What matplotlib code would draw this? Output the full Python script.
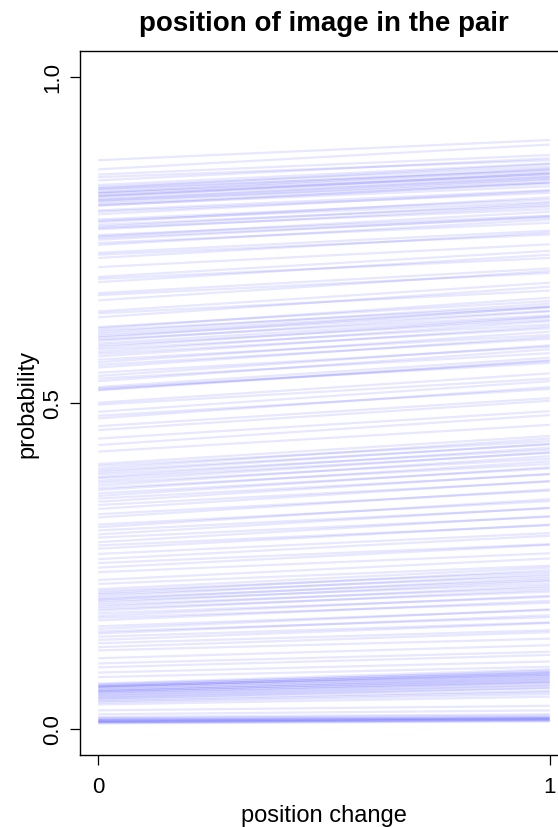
import matplotlib
matplotlib.use("Agg")
import matplotlib.pyplot as plt
from matplotlib.collections import LineCollection

plt.rcParams['font.family'] = ['Liberation Sans', 'DejaVu Sans']

# predicted probability for each posterior draw: first position (0) and after a position change (1)
x_levels = [0, 1]
x_tick_labels = ["0", "1"]
y_ticks = [0.0, 0.5, 1.0]
y_tick_labels = ["0.0", "0.5", "1.0"]

p_pos0 = [
    0.872, 0.858, 0.850, 0.846, 0.841, 0.834, 0.831, 0.829, 0.828, 0.826,
    0.823, 0.822, 0.821, 0.818, 0.817, 0.816, 0.813, 0.811, 0.810, 0.808,
    0.805, 0.803, 0.802, 0.795, 0.793, 0.789, 0.781, 0.779, 0.777, 0.773,
    0.770, 0.768, 0.766, 0.757, 0.755, 0.753, 0.750, 0.745, 0.742, 0.730,
    0.727, 0.722, 0.708, 0.693, 0.690, 0.685, 0.668, 0.665, 0.657, 0.640,
    0.637, 0.631, 0.616, 0.614, 0.611, 0.608, 0.605, 0.602, 0.600, 0.597,
    0.595, 0.591, 0.588, 0.585, 0.582, 0.578, 0.575, 0.571, 0.566, 0.562,
    0.558, 0.554, 0.546, 0.541, 0.537, 0.533, 0.524, 0.522, 0.520, 0.519,
    0.500, 0.497, 0.486, 0.480, 0.476, 0.464, 0.458, 0.445, 0.435, 0.425,
    0.406, 0.403, 0.399, 0.396, 0.393, 0.390, 0.386, 0.384, 0.380, 0.377,
    0.373, 0.369, 0.366, 0.361, 0.357, 0.353, 0.348, 0.343, 0.337, 0.329,
    0.324, 0.313, 0.309, 0.304, 0.298, 0.293, 0.286, 0.281, 0.276, 0.268,
    0.260, 0.254, 0.247, 0.240, 0.228, 0.222, 0.214, 0.211, 0.208, 0.206,
    0.203, 0.200, 0.198, 0.196, 0.193, 0.190, 0.187, 0.184, 0.181, 0.177,
    0.173, 0.170, 0.166, 0.157, 0.153, 0.149, 0.146, 0.141, 0.136, 0.131,
    0.125, 0.120, 0.108, 0.100, 0.094, 0.086, 0.079, 0.069, 0.068, 0.066,
    0.065, 0.065, 0.064, 0.063, 0.062, 0.060, 0.059, 0.058, 0.057, 0.056,
    0.055, 0.053, 0.052, 0.050, 0.049, 0.047, 0.046, 0.044, 0.042, 0.040,
    0.037, 0.028, 0.022, 0.018, 0.016, 0.015, 0.014, 0.013, 0.012, 0.012,
    0.011, 0.010, 0.010, 0.009, 0.008,
]

p_pos1 = [
    0.903, 0.896, 0.880, 0.872, 0.875, 0.867, 0.862, 0.866, 0.856, 0.859,
    0.853, 0.858, 0.849, 0.851, 0.846, 0.852, 0.843, 0.846, 0.838, 0.842,
    0.836, 0.832, 0.838, 0.826, 0.822, 0.825, 0.812, 0.808, 0.815, 0.803,
    0.806, 0.797, 0.801, 0.787, 0.793, 0.784, 0.786, 0.776, 0.781, 0.764,
    0.758, 0.761, 0.743, 0.733, 0.722, 0.727, 0.706, 0.699, 0.702, 0.684,
    0.672, 0.678, 0.656, 0.661, 0.648, 0.652, 0.646, 0.641, 0.647, 0.634,
    0.640, 0.632, 0.627, 0.631, 0.620, 0.625, 0.614, 0.617, 0.604, 0.609,
    0.598, 0.601, 0.586, 0.588, 0.576, 0.582, 0.569, 0.561, 0.565, 0.564,
    0.545, 0.537, 0.533, 0.521, 0.524, 0.507, 0.503, 0.487, 0.481, 0.466,
    0.449, 0.441, 0.445, 0.436, 0.437, 0.428, 0.431, 0.423, 0.424, 0.414,
    0.418, 0.406, 0.410, 0.399, 0.401, 0.390, 0.391, 0.379, 0.380, 0.365,
    0.367, 0.349, 0.352, 0.338, 0.339, 0.325, 0.326, 0.312, 0.313, 0.300,
    0.296, 0.283, 0.282, 0.269, 0.261, 0.250, 0.247, 0.240, 0.243, 0.234,
    0.237, 0.228, 0.231, 0.222, 0.226, 0.216, 0.219, 0.210, 0.213, 0.202,
    0.204, 0.193, 0.196, 0.182, 0.183, 0.171, 0.174, 0.163, 0.162, 0.151,
    0.148, 0.138, 0.128, 0.118, 0.113, 0.103, 0.095, 0.091, 0.087, 0.089,
    0.085, 0.083, 0.086, 0.081, 0.083, 0.078, 0.080, 0.075, 0.077, 0.072,
    0.074, 0.070, 0.071, 0.066, 0.067, 0.062, 0.063, 0.058, 0.056, 0.053,
    0.049, 0.035, 0.028, 0.022, 0.020, 0.018, 0.017, 0.016, 0.015, 0.016,
    0.014, 0.013, 0.014, 0.012, 0.011,
]

W, H = 558, 828
fig = plt.figure(figsize=(W / 100, H / 100), dpi=100)
# plot region runs past the right edge of the figure
ax = fig.add_axes([80.2 / W, 1 - 755.7 / H, 487.6 / W, 704.0 / H])

segments = [[(x_levels[0], a), (x_levels[1], b)] for a, b in zip(p_pos0, p_pos1)]
ax.add_collection(LineCollection(segments, colors=[(0, 0, 1, 0.095)], linewidths=1.6))

ax.set_xlim(-0.04, 1.04)
ax.set_ylim(-0.04, 1.04)

ax.set_xticks(x_levels)
ax.set_xticklabels(x_tick_labels)
ax.set_yticks(y_ticks)
ax.set_yticklabels(y_tick_labels, rotation=90, va='center')
ax.tick_params(axis='both', direction='out', length=7.2, width=0.9,
               labelsize=16, colors='black')
ax.tick_params(axis='y', pad=5)
ax.tick_params(axis='x', pad=8)
for s in ax.spines.values():
    s.set_linewidth(1.0)
    s.set_color('black')

ax.set_xlabel("position change", fontsize=17, labelpad=5)
ax.set_ylabel("probability", fontsize=17, labelpad=3)
fig.text(324 / W, 1 - 24 / H, "position of image in the pair",
         ha='center', va='center', fontsize=20, fontweight='bold')

fig.savefig("out.png", dpi=100)
